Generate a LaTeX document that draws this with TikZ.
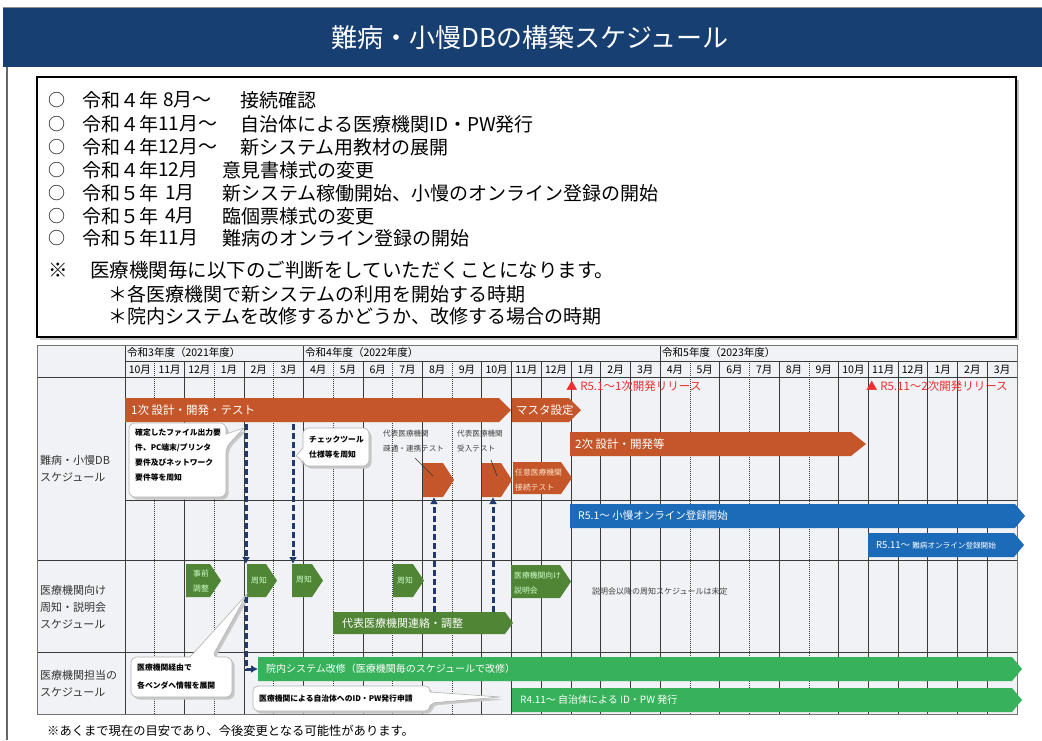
\documentclass[tikz,border=0pt]{standalone}
\usepackage{fontspec}
\setmainfont{Noto Sans CJK JP}
\usetikzlibrary{arrows.meta}
\definecolor{hdrblue}{HTML}{173F72}
\definecolor{obar}{HTML}{C5562A}
\definecolor{bbar}{HTML}{1C6BB8}
\definecolor{dgreen}{HTML}{4F8535}
\definecolor{lgreen}{HTML}{37B25B}
\definecolor{rtext}{HTML}{EE2F2F}
\definecolor{navy}{HTML}{1F3A6E}
\definecolor{tbl}{HTML}{F0F2F5}
\definecolor{gridc}{HTML}{3A3A3A}
\definecolor{lbltxt}{HTML}{333333}
\newcommand\myfs[1]{\fontsize{#1}{#1}\selectfont}
% arrow-shaped bar: name, colour, x1, y1, xtip, y2, tip length
\newcommand\arrbar[7]{%
  \fill[#2] (#3,#4) -- ({#5-#7},#4) -- (#5,{(#4+#6)/2}) -- ({#5-#7},#6) -- (#3,#6) -- cycle;
  \path (#3,#4) coordinate (#1-nw) (#3,#6) coordinate (#1-sw)
        (#3,{(#4+#6)/2}) coordinate (#1-w)
        ({(#3+#5-#7)/2},#4) coordinate (#1-n) ({(#3+#5-#7)/2},#6) coordinate (#1-s);}
\newcommand\calloutA[1]{\path[#1,rounded corners=6pt] (129,460) -- (129,497) -- (226,497) -- (226,447) [sharp corners] -- (244,428) -- (226,434) [rounded corners=6pt] -- (226,423) -- (129,423) -- cycle;}
\newcommand\calloutB[1]{\path[#1,rounded corners=6pt] (335,428) -- (369,428) -- (369,466) -- (303,466) -- (303,460) [sharp corners] -- (296,456) -- (303,448) [rounded corners=6pt] -- (303,428) -- cycle;}
\newcommand\calloutC[1]{\path[#1,rounded corners=6pt] (131,680) -- (131,697) -- (232,697) -- (232,657) -- (212,657) [sharp corners] -- (247,594) -- (190,657) [rounded corners=6pt] -- (131,657) -- cycle;}
\newcommand\calloutD[1]{\path[#1,rounded corners=5pt] (253,700) -- (253,711) -- (430,711) -- (430,703) [sharp corners] -- (500,697) -- (430,692) [rounded corners=5pt] -- (430,686) -- (253,686) -- cycle;}
\begin{document}
\begin{tikzpicture}[x=1pt,y=-1pt,
  txt/.style={inner sep=0pt, anchor=west, text=black},
  wtxt/.style={inner sep=0pt, anchor=west, text=white},
  mon/.style={inner sep=0pt, text=black, font=\myfs{10.5}},
  lbl/.style={inner sep=0pt, anchor=west, text=lbltxt, font=\myfs{11}},
  ctxt/.style={inner sep=0pt, anchor=west, text=black, font=\bfseries\myfs{7.8}},
  smalltxt/.style={inner sep=0pt, text=white!80!green, font=\myfs{7.8}},
  gline/.style={gridc, line width=0.7pt},
  dline/.style={gridc, line width=0.6pt, dash pattern=on 1pt off 1pt},
  navydash/.style={navy, line width=3pt, dash pattern=on 6pt off 3pt, -{Latex[length=7pt,width=8pt]}},
  coshadow/.style={fill=black!22},
  cobox/.style={fill=white, draw=black!30, line width=0.6pt}]
\useasboundingbox (0,0) rectangle (1042,740);
\fill[white] (0,0) rectangle (1042,740);
% header band
\draw[black!45, line width=1pt] (3,7) -- (1042,7);
\fill[hdrblue] (3,8) rectangle (1042,67);
\node[inner sep=0pt, text=white, font=\myfs{26}] (title) at (530,38) {難病・小慢DBの構築スケジュール};
\draw[black!60, line width=1.2pt] (7,67) -- (7,740);
% summary box
\fill[black!25] (40,80) rectangle (1019,340);
\draw[line width=2.6pt, fill=white] (37,77) rectangle (1016,337);
\foreach \y/\n/\ma/\mx/\d/\dx [count=\k] in {
  100/４/8月～/163/接続確認/240,
  124/４/11月～/158/自治体による医療機関ID・PW発行/240,
  147/４/12月～/158/新システム用教材の展開/240,
  170/４/12月/158/意見書様式の変更/222,
  193/５/1月/165/新システム稼働開始、小慢のオンライン登録の開始/222,
  216/５/4月/165/臨個票様式の変更/222,
  238/５/11月/158/難病のオンライン登録の開始/222}{
  \node[txt, font=\myfs{17}] (c\k) at (48,\y) {○};
  \node[txt, font=\myfs{19}] (y\k) at (82,\y) {令和\n{}年};
  \node[txt, font=\myfs{19}] (m\k) at (\mx,\y) {\ma};
  \node[txt, font=\myfs{19}] (d\k) at (\dx,\y) {\d};
}
\node[txt, font=\myfs{19.5}] (note) at (48,270) {※};
\node[txt, font=\myfs{19.5}] (notet) at (90,270) {医療機関毎に以下のご判断をしていただくことになります。};
\node[txt, font=\myfs{19}] (n1) at (108,294) {＊各医療機関で新システムの利用を開始する時期};
\node[txt, font=\myfs{19}] (n2) at (108,316) {＊院内システムを改修するかどうか、改修する場合の時期};
% table background
\fill[tbl] (37,345) rectangle (1017,714);
% vertical month lines
\foreach \i in {1,3,5,7,9,11,19,21,23}
  \draw[dline] ({125+\i*29.733},361) -- ({125+\i*29.733},714);
\foreach \i in {2,4,8,10,12,13,14,15,16,17,20,22,24,25,26,27,28,29}
  \draw[gline] ({125+\i*29.733},361) -- ({125+\i*29.733},714);
\foreach \i in {6,18}
  \draw[gline] ({125+\i*29.733},345) -- ({125+\i*29.733},714);
% horizontal lines
\draw[gline] (125,361) -- (1017,361);
\draw[gline] (37,377) -- (1017,377);
\draw[gline] (125,500) -- (1017,500);
\draw[gline] (37,560) -- (1017,560);
\draw[gline] (37,652) -- (1017,652);
\draw[gline] (125,345) -- (125,714);
\draw[black!55, line width=0.8pt] (37,345) rectangle (1017,714);
% header texts
\node[inner sep=0pt, anchor=west, font=\myfs{10.5}] (fy3) at (127,353) {令和3年度（2021年度）};
\node[inner sep=0pt, anchor=west, font=\myfs{10.5}] (fy4) at (305,353) {令和4年度（2022年度）};
\node[inner sep=0pt, anchor=west, font=\myfs{10.5}] (fy5) at (662,353) {令和5年度（2023年度）};
\foreach \m [count=\i from 0] in {10,11,12,1,2,3,4,5,6,7,8,9,10,11,12,1,2,3,4,5,6,7,8,9,10,11,12,1,2,3}
  \node[mon] (mo\i) at ({125+(\i+0.5)*29.733},369.5) {\m{}月};
% row labels
\node[lbl] (r1a) at (40,460) {難病・小慢DB};
\node[lbl] (r1b) at (40,477) {スケジュール};
\node[lbl] (r2a) at (40,590) {医療機関向け};
\node[lbl] (r2b) at (40,607) {周知・説明会};
\node[lbl] (r2c) at (40,624) {スケジュール};
\node[lbl] (r3a) at (40,675) {医療機関担当の};
\node[lbl] (r3b) at (40,692) {スケジュール};
% release markers
\node[txt, text=rtext, font=\myfs{11.5}] (rel1) at (566,386) {▲ R5.1～1次開発リリース};
\node[txt, text=rtext, font=\myfs{11.5}] (rel2) at (866,386) {▲ R5.11～2次開発リリース};
% bars
\arrbar{bar1}{obar}{125}{398}{511}{422}{12}
\arrbar{masuta}{obar}{512}{398}{581}{422}{12}
\arrbar{dev2}{obar}{570}{432}{866}{456}{15}
\arrbar{sotsu}{obar}{423}{463}{454}{497}{11}
\arrbar{ukeire}{obar}{482}{463}{512}{497}{11}
\arrbar{nini}{obar}{513}{462}{572}{494}{11}
\arrbar{blue1}{bbar}{570}{504}{1025}{528}{10}
\arrbar{blue2}{bbar}{868}{533}{1024}{557}{10}
\arrbar{jizen}{dgreen}{186}{564}{221}{597}{11}
\arrbar{shuchiA}{dgreen}{247}{564}{277}{597}{11}
\arrbar{shuchiB}{dgreen}{292}{564}{323}{597}{11}
\arrbar{shuchiC}{dgreen}{393}{564}{424}{597}{11}
\arrbar{setsumei}{dgreen}{511}{565}{571}{598}{11}
\arrbar{renraku}{dgreen}{333}{612}{513}{634}{8}
\arrbar{innai}{lgreen}{258}{657}{1022}{681}{10}
\arrbar{idpw}{lgreen}{512}{688}{1022}{712}{10}
% bar labels
\node[wtxt, font=\myfs{11.5}] (tbar1) at (131,410) {1次 設計・開発・テスト};
\node[wtxt, font=\myfs{11.5}] (tmasuta) at (516,410) {マスタ設定};
\node[wtxt, font=\myfs{11.5}] (tdev2) at (575,444) {2次 設計・開発等};
\node[smalltxt, anchor=west, text=white!80!orange] (tnini1) at (515,473) {任意医療機関};
\node[smalltxt, anchor=west, text=white!80!orange] (tnini2) at (515,488) {接続テスト};
\node[wtxt, font=\myfs{10.5}] (tblue1) at (578,516) {R5.1～ 小慢オンライン登録開始};
\node[wtxt, font=\myfs{9.5}] (tblue2) at (876,545) {R5.11～ \myfs{7.6}難病オンライン登録開始};
\node[smalltxt] (tjz1) at (201,574) {事前};
\node[smalltxt] (tjz2) at (201,589) {調整};
\node[smalltxt] (tshA) at (259,581) {周知};
\node[smalltxt] (tshB) at (304,580) {周知};
\node[smalltxt] (tshC) at (405,581) {周知};
\node[smalltxt, anchor=west] (tset1) at (514,576) {医療機関向け};
\node[smalltxt, anchor=west] (tset2) at (514,591) {説明会};
\node[wtxt, font=\myfs{11}] (tren) at (342,623) {代表医療機関連絡・調整};
\node[wtxt, font=\myfs{10}] (tinnai) at (266,669) {院内システム改修（医療機関毎のスケジュールで改修）};
\node[wtxt, font=\myfs{10}] (tidpw) at (520,700) {R4.11～ 自治体による ID・PW 発行};
\node[txt, text=black!75, font=\myfs{8}] (mitei) at (592,591) {説明会以降の周知スケジュールは未定};
% test labels above pentagons
\node[txt, text=black!75, font=\myfs{7.6}] (la1) at (383,434) {代表医療機関};
\node[txt, text=black!75, font=\myfs{7.6}] (la2) at (383,449) {疎通・連携テスト};
\node[txt, text=black!75, font=\myfs{7.6}] (lb1) at (457,434) {代表医療機関};
\node[txt, text=black!75, font=\myfs{7.6}] (lb2) at (457,449) {受入テスト};
\coordinate (pa) at (433,476);
\coordinate (pb) at (497,476);
\coordinate (qa) at (415,458);
\coordinate (qb) at (491,460);
\draw[black!80, line width=0.6pt] (qa) -- (pa);
\draw[black!80, line width=0.6pt] (qb) -- (pb);
% callouts
\begin{scope}[shift={(2.5,2.5)}]\calloutA{coshadow}\end{scope}
\calloutA{cobox}
\node[ctxt] (ca1) at (135,433) {確定したファイル出力要};
\node[ctxt] (ca2) at (135,448) {件、PC端末/プリンタ};
\node[ctxt] (ca3) at (135,463) {要件及びネットワーク};
\node[ctxt] (ca4) at (135,478) {要件等を周知};
\begin{scope}[shift={(2.5,2.5)}]\calloutB{coshadow}\end{scope}
\calloutB{cobox}
\node[ctxt] (cb1) at (309,440) {チェックツール};
\node[ctxt] (cb2) at (309,455) {仕様等を周知};
\begin{scope}[shift={(2.5,2.5)}]\calloutC{coshadow}\end{scope}
\calloutC{cobox}
\node[ctxt] (cc1) at (137,668) {医療機関経由で};
\node[ctxt] (cc2) at (137,685) {各ベンダへ情報を展開};
\begin{scope}[shift={(2.5,2.5)}]\calloutD{coshadow}\end{scope}
\calloutD{cobox}
\node[ctxt] (cd1) at (259,698.5) {医療機関による自治体へのID・PW発行申請};
% dashed connectors
\coordinate (s1) at (246,424);
\coordinate (s2) at (293,424);
\coordinate (u1) at (434,612);
\coordinate (u2) at (493,612);
\draw[navydash] (s1) -- (s1 |- shuchiA-nw);
\draw[navydash] (s2) -- (s2 |- shuchiB-nw);
\draw[navydash] (s1 |- shuchiA-sw) |- (innai-w);
\draw[navydash] (u1) -- (u1 |- sotsu-sw);
\draw[navydash] (u2) -- (u2 |- ukeire-sw);
% footer
\node[txt, font=\myfs{12.3}] (foot) at (47,731) {※あくまで現在の目安であり、今後変更となる可能性があります。};
\end{tikzpicture}
\end{document}
